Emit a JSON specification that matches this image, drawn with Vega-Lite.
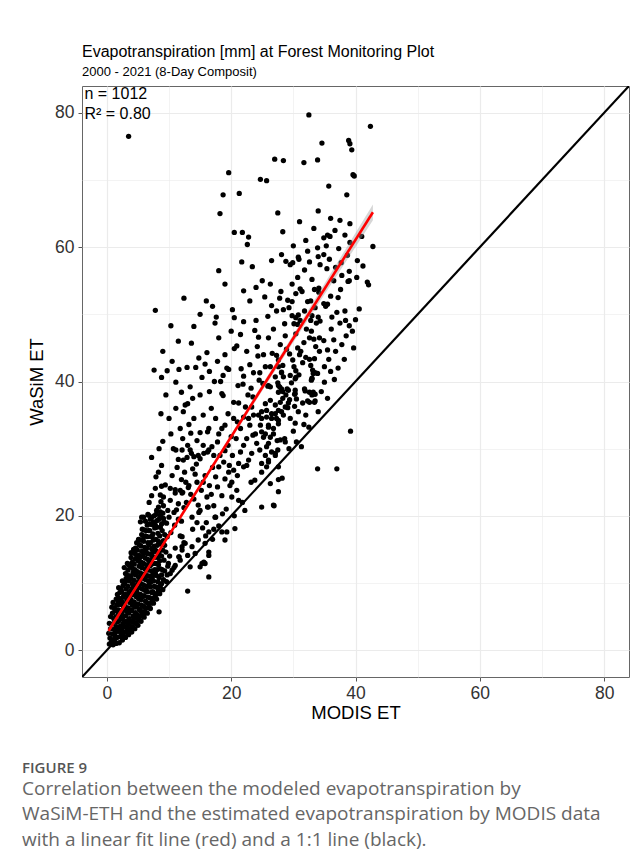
{
  "$schema": "https://vega.github.io/schema/vega-lite/v6.json",
  "background": "white",
  "padding": {"left": 22, "top": 43, "right": 5, "bottom": 3},
  "config": {"font": "Liberation Sans", "view": {"stroke": "#666666", "strokeWidth": 1}},
  "title": {
    "text": "FIGURE 9",
    "subtitle": ["Correlation between the modeled evapotranspiration by", "WaSiM-ETH and the estimated evapotranspiration by MODIS data", "with a linear fit line (red) and a 1:1 line (black)."],
    "orient": "bottom", "anchor": "start", "frame": "bounds", "dx": -5,
    "font": "Open Sans", "fontSize": 15, "fontWeight": 600, "color": "#555555",
    "subtitleFont": "Open Sans", "subtitleFontSize": 19, "subtitleColor": "#666666",
    "subtitleLineHeight": 25.5, "subtitlePadding": 4, "offset": 38
  },
  "vconcat": [
    {
      "width": 547,
      "height": 591,
      "title": {
        "text": "Evapotranspiration [mm] at Forest Monitoring Plot",
        "subtitle": "2000 - 2021 (8-Day Composit)",
        "anchor": "start", "frame": "group",
        "font": "Liberation Sans", "fontSize": 16, "fontWeight": "normal", "color": "#000000",
        "subtitleFont": "Liberation Sans", "subtitleFontSize": 13, "subtitleColor": "#000000",
        "subtitlePadding": 6, "offset": 7
      },
      "layer": [
        {
          "data": {"values": [
            {"x":3.5,"y":76.5},{"x":32.5,"y":79.7},{"x":42.4,"y":78.0},{"x":34.6,"y":75.5},{"x":38.9,"y":75.9},{"x":39.1,"y":75.4},{"x":39.4,"y":74.5},{"x":27.0,"y":73.1},{"x":28.4,"y":72.9},{"x":31.7,"y":72.6},{"x":33.9,"y":73.0},{"x":19.6,"y":71.1},{"x":39.6,"y":70.8},{"x":39.8,"y":70.6},{"x":24.7,"y":70.1},{"x":25.7,"y":69.9},{"x":18.7,"y":67.8},{"x":21.3,"y":68.0},{"x":35.7,"y":69.1},{"x":38.6,"y":67.8},{"x":18.2,"y":65.0},{"x":27.5,"y":65.1},{"x":34.0,"y":65.4},{"x":31.0,"y":63.8},{"x":36.0,"y":64.3},{"x":39.1,"y":63.5},{"x":20.5,"y":62.2},{"x":21.8,"y":62.2},{"x":22.8,"y":61.5},{"x":22.6,"y":60.4},{"x":28.3,"y":62.3},{"x":36.7,"y":62.5},{"x":34.9,"y":61.4},{"x":35.5,"y":61.8},{"x":35.9,"y":61.6},{"x":35.3,"y":60.2},{"x":39.1,"y":60.7},{"x":41.0,"y":61.6},{"x":42.8,"y":60.1},{"x":37.3,"y":59.8},{"x":21.7,"y":57.8},{"x":23.4,"y":57.1},{"x":28.1,"y":58.9},{"x":28.8,"y":57.9},{"x":29.5,"y":57.4},{"x":29.9,"y":57.7},{"x":30.8,"y":58.5},{"x":30.9,"y":58.2},{"x":32.3,"y":59.4},{"x":33.9,"y":59.9},{"x":34.0,"y":58.6},{"x":34.9,"y":58.9},{"x":34.3,"y":57.4},{"x":35.4,"y":56.8},{"x":37.7,"y":57.7},{"x":38.7,"y":58.8},{"x":39.0,"y":56.4},{"x":39.0,"y":55.0},{"x":41.9,"y":54.8},{"x":42.1,"y":54.4},{"x":30.7,"y":55.5},{"x":29.8,"y":54.5},{"x":25.4,"y":52.6},{"x":28.0,"y":53.4},{"x":27.8,"y":52.4},{"x":29.1,"y":52.1},{"x":29.8,"y":51.9},{"x":30.4,"y":53.1},{"x":31.1,"y":53.8},{"x":31.4,"y":53.4},{"x":32.3,"y":51.9},{"x":32.8,"y":52.0},{"x":33.4,"y":53.7},{"x":34.1,"y":53.9},{"x":34.1,"y":53.3},{"x":34.9,"y":51.6},{"x":35.2,"y":51.2},{"x":35.5,"y":51.5},{"x":37.2,"y":52.5},{"x":37.6,"y":53.7},{"x":38.8,"y":54.9},
            {"x":12.4,"y":52.4},{"x":16.0,"y":52.0},{"x":17.0,"y":51.2},{"x":20.2,"y":50.7},{"x":17.6,"y":49.6},{"x":17.4,"y":48.7},{"x":20.5,"y":49.5},{"x":22.0,"y":48.9},{"x":24.0,"y":49.1},{"x":23.8,"y":47.6},{"x":24.4,"y":46.6},{"x":25.9,"y":49.7},{"x":28.6,"y":48.6},{"x":28.7,"y":46.8},{"x":29.8,"y":49.8},{"x":30.4,"y":49.5},{"x":30.8,"y":49.9},{"x":31.1,"y":49.1},{"x":30.1,"y":48.6},{"x":30.7,"y":48.5},{"x":30.4,"y":47.1},{"x":32.1,"y":47.8},{"x":32.6,"y":46.5},{"x":32.8,"y":49.1},{"x":33.0,"y":49.8},{"x":33.7,"y":48.7},{"x":34.0,"y":49.6},{"x":34.3,"y":49.0},{"x":32.9,"y":47.5},{"x":33.3,"y":46.3},{"x":34.2,"y":46.5},{"x":34.9,"y":46.1},{"x":36.1,"y":47.8},{"x":36.2,"y":49.6},{"x":37.0,"y":50.3},{"x":37.5,"y":48.7},{"x":38.3,"y":50.5},{"x":38.4,"y":49.1},{"x":39.0,"y":48.3},{"x":40.6,"y":50.8},
            {"x":13.6,"y":45.7},{"x":16.1,"y":44.3},{"x":15.8,"y":42.6},{"x":12.9,"y":42.1},{"x":14.3,"y":42.1},{"x":15.3,"y":40.6},{"x":13.4,"y":39.2},{"x":18.3,"y":40.0},{"x":18.7,"y":40.9},{"x":19.3,"y":42.0},{"x":19.6,"y":41.8},{"x":20.5,"y":44.9},{"x":20.9,"y":45.3},{"x":21.6,"y":41.9},{"x":21.1,"y":39.4},{"x":21.9,"y":39.6},{"x":18.5,"y":38.2},{"x":18.7,"y":37.9},{"x":20.4,"y":36.9},{"x":23.5,"y":37.7},{"x":23.6,"y":41.3},{"x":24.6,"y":41.3},{"x":24.3,"y":43.8},{"x":24.2,"y":45.2},{"x":25.5,"y":42.2},{"x":26.3,"y":42.2},{"x":24.5,"y":40.2},{"x":25.1,"y":39.7},{"x":25.9,"y":39.3},{"x":26.3,"y":39.2},{"x":27.3,"y":43.9},{"x":27.6,"y":43.2},{"x":27.6,"y":42.2},{"x":28.1,"y":41.3},{"x":28.4,"y":40.7},{"x":28.3,"y":42.4},{"x":27.5,"y":39.8},{"x":27.8,"y":39.2},{"x":28.1,"y":38.9},{"x":28.3,"y":38.5},{"x":27.6,"y":38.4},{"x":28.8,"y":38.0},{"x":28.3,"y":37.5},{"x":29.4,"y":37.3},{"x":29.2,"y":36.8},{"x":29.4,"y":44.1},{"x":29.9,"y":43.2},{"x":30.1,"y":42.2},{"x":30.4,"y":41.6},{"x":30.4,"y":40.6},{"x":30.7,"y":45.0},{"x":31.2,"y":44.5},{"x":31.0,"y":44.0},{"x":32.0,"y":43.6},{"x":32.6,"y":43.3},{"x":33.4,"y":43.4},{"x":32.8,"y":42.4},{"x":33.1,"y":41.7},{"x":33.0,"y":40.5},{"x":32.9,"y":40.2},{"x":33.5,"y":41.3},{"x":33.9,"y":41.2},{"x":35.5,"y":44.7},{"x":35.7,"y":43.3},{"x":35.0,"y":39.9},{"x":36.6,"y":40.3},{"x":31.9,"y":38.6},{"x":32.6,"y":38.4},{"x":33.0,"y":38.0},{"x":33.4,"y":36.9},{"x":32.6,"y":36.9},{"x":30.3,"y":38.2},{"x":30.5,"y":37.4},{"x":30.2,"y":36.3},
            {"x":7.8,"y":50.6},{"x":10.3,"y":48.3},{"x":7.6,"y":41.7},{"x":8.8,"y":40.6},{"x":9.7,"y":41.6},{"x":11.6,"y":41.8},{"x":11.1,"y":39.9},{"x":12.0,"y":38.4},{"x":8.7,"y":35.2},{"x":11.1,"y":36.0},{"x":12.3,"y":35.5},{"x":12.6,"y":36.5},{"x":13.0,"y":36.7},{"x":13.2,"y":33.6},{"x":10.3,"y":32.2},{"x":13.5,"y":32.3},{"x":15.0,"y":32.4},{"x":16.4,"y":33.0},{"x":16.2,"y":32.5},{"x":18.5,"y":33.0},{"x":9.0,"y":31.1},{"x":8.4,"y":30.0},{"x":7.2,"y":28.7},{"x":10.7,"y":30.0},{"x":11.1,"y":29.8},{"x":12.1,"y":29.8},{"x":13.0,"y":30.5},{"x":13.4,"y":29.8},{"x":13.6,"y":29.3},{"x":11.5,"y":28.4},{"x":12.9,"y":28.7},{"x":12.3,"y":28.3},{"x":14.7,"y":29.0},{"x":15.0,"y":28.5},{"x":15.6,"y":29.3},{"x":16.4,"y":29.8},{"x":16.9,"y":30.3},{"x":14.4,"y":27.7},{"x":8.8,"y":27.5},{"x":8.3,"y":26.5},{"x":7.9,"y":25.8},{"x":8.8,"y":24.4},{"x":9.4,"y":24.6},{"x":10.2,"y":24.1},{"x":11.0,"y":23.9},{"x":11.8,"y":23.8},{"x":12.1,"y":23.4},{"x":7.8,"y":24.1},{"x":8.6,"y":23.1},{"x":9.1,"y":22.8},{"x":8.7,"y":22.1},{"x":8.3,"y":21.3},{"x":8.0,"y":20.8},{"x":8.6,"y":20.1},{"x":9.1,"y":19.6},{"x":5.6,"y":19.8},{"x":6.7,"y":20.1},{"x":7.2,"y":19.8},{"x":5.4,"y":19.1},
            {"x":13.1,"y":24.2},{"x":14.7,"y":21.6},{"x":16.1,"y":22.8},{"x":16.3,"y":21.3},{"x":17.4,"y":19.8},{"x":15.0,"y":20.8},{"x":13.7,"y":19.8},{"x":18.0,"y":27.3},{"x":19.6,"y":26.5},{"x":19.0,"y":25.5},{"x":20.1,"y":25.0},{"x":20.9,"y":23.8},{"x":20.1,"y":22.8},{"x":21.2,"y":22.3},{"x":20.4,"y":26.8},{"x":21.2,"y":27.8},{"x":22.0,"y":27.3},{"x":22.8,"y":28.3},{"x":23.3,"y":29.3},{"x":24.1,"y":30.8},{"x":25.2,"y":31.7},{"x":23.9,"y":32.2},{"x":24.7,"y":33.5},{"x":26.8,"y":21.6},{"x":24.9,"y":21.3},{"x":22.2,"y":20.8},{"x":19.3,"y":17.6},{"x":20.6,"y":18.1},{"x":19.0,"y":16.4},{"x":16.4,"y":14.6},{"x":15.8,"y":12.9},{"x":15.3,"y":12.9},{"x":16.4,"y":10.9},{"x":13.0,"y":8.8},{"x":14.7,"y":16.4},{"x":13.7,"y":15.4},{"x":12.6,"y":15.9},{"x":13.0,"y":14.1},{"x":13.4,"y":12.4},{"x":12.1,"y":16.9},{"x":12.1,"y":15.4},{"x":11.6,"y":13.9},{"x":8.4,"y":5.7},{"x":16.2,"y":21.3},{"x":17.5,"y":19.8},{"x":18.5,"y":17.6},{"x":16.4,"y":17.6},{"x":15.8,"y":15.9},{"x":14.2,"y":14.4},{"x":16.4,"y":14.1},{"x":15.6,"y":13.1},{"x":15.0,"y":12.4},{"x":12.1,"y":14.9},{"x":11.8,"y":13.4},{"x":11.0,"y":12.6},{"x":9.9,"y":12.9},{"x":10.5,"y":11.9},{"x":9.7,"y":11.2},{"x":8.8,"y":9.9},
            {"x":39.2,"y":32.6},{"x":33.9,"y":27.0},{"x":37.0,"y":27.0},{"x":27.6,"y":25.4},{"x":26.9,"y":21.5},{"x":31.7,"y":33.6},{"x":30.3,"y":33.8},{"x":30.0,"y":32.6},{"x":33.2,"y":41.2},{"x":33.0,"y":40.4},{"x":31.8,"y":38.9},{"x":33.2,"y":38.4},{"x":33.5,"y":38.1},{"x":32.3,"y":37.1},{"x":33.5,"y":37.1},{"x":30.3,"y":38.7},{"x":30.2,"y":38.1},{"x":29.0,"y":38.9},{"x":29.1,"y":36.1},{"x":28.6,"y":31.5},{"x":28.7,"y":31.0},{"x":27.1,"y":29.3},{"x":27.5,"y":29.8},{"x":26.0,"y":28.3},{"x":25.7,"y":27.3},{"x":25.5,"y":36.7},{"x":26.3,"y":37.2},{"x":27.1,"y":36.5},{"x":27.9,"y":36.9},{"x":26.5,"y":35.2},{"x":25.7,"y":34.7},{"x":27.3,"y":34.5},{"x":28.1,"y":35.5},{"x":26.0,"y":33.2},{"x":26.8,"y":33.0},{"x":27.6,"y":33.7},{"x":25.5,"y":32.2},{"x":26.3,"y":31.7},{"x":27.4,"y":31.2},{"x":25.7,"y":30.3},{"x":26.5,"y":29.5},{"x":25.5,"y":29.0},{"x":24.9,"y":27.8},{"x":28.7,"y":36.2},{"x":29.2,"y":38.7},{"x":27.6,"y":39.4},{"x":26.0,"y":39.4},{"x":27.1,"y":40.7},{"x":29.5,"y":40.9},{"x":30.3,"y":40.4},{"x":28.1,"y":41.4},
            {"x":20.4,"y":34.5},{"x":22.0,"y":34.7},{"x":23.6,"y":35.0},{"x":24.9,"y":35.5},{"x":27.6,"y":35.7},{"x":28.4,"y":35.0},{"x":24.9,"y":34.5},{"x":26.5,"y":34.5},{"x":23.3,"y":36.2},{"x":24.4,"y":35.0},{"x":25.7,"y":35.7},{"x":27.1,"y":35.2},{"x":27.6,"y":34.2},{"x":26.0,"y":33.5},{"x":24.9,"y":32.5},{"x":26.8,"y":32.2},{"x":27.9,"y":31.3},{"x":26.0,"y":30.8},{"x":24.6,"y":29.8},{"x":27.1,"y":29.0},{"x":26.0,"y":28.0},{"x":27.6,"y":27.3},{"x":24.9,"y":26.5},{"x":23.8,"y":25.3},{"x":26.3,"y":24.8},{"x":28.2,"y":25.6},{"x":27.6,"y":23.6},
            {"x":14.0,"y":22.5},{"x":14.5,"y":25.0},{"x":15.2,"y":23.8},{"x":15.8,"y":26.0},{"x":16.5,"y":24.5},{"x":17.0,"y":27.2},{"x":17.5,"y":25.8},{"x":18.2,"y":29.0},{"x":18.8,"y":28.0},{"x":19.5,"y":30.5},{"x":20.2,"y":29.0},{"x":20.8,"y":31.5},{"x":21.5,"y":33.0},{"x":22.0,"y":30.5},{"x":22.8,"y":34.5},{"x":23.5,"y":32.0},{"x":19.0,"y":33.5},{"x":17.8,"y":31.0},{"x":16.2,"y":29.5},{"x":13.8,"y":27.0},{"x":12.5,"y":26.5},{"x":13.2,"y":24.5},{"x":14.8,"y":20.5},{"x":16.0,"y":19.0},{"x":17.2,"y":21.5},{"x":18.5,"y":23.0},{"x":19.8,"y":24.5},{"x":21.0,"y":26.0},{"x":22.5,"y":27.5},{"x":23.2,"y":25.0},{"x":21.8,"y":22.0},{"x":20.5,"y":20.0},{"x":18.0,"y":18.5},{"x":17.0,"y":16.5},{"x":19.2,"y":21.0},
            {"x":10.5,"y":26.0},{"x":11.3,"y":27.2},{"x":12.0,"y":25.4},{"x":12.8,"y":22.0},{"x":13.5,"y":23.2},{"x":14.2,"y":26.2},{"x":10.8,"y":20.5},{"x":11.5,"y":19.5},{"x":12.4,"y":21.2},{"x":13.8,"y":18.0},{"x":14.5,"y":19.0},{"x":15.4,"y":18.2},{"x":15.9,"y":17.0},{"x":17.2,"y":18.0},{"x":18.6,"y":20.3},{"x":17.8,"y":24.3},{"x":16.8,"y":23.2},{"x":15.5,"y":25.0},{"x":14.0,"y":28.8},{"x":12.2,"y":31.5},{"x":11.8,"y":33.0},{"x":14.5,"y":31.2},{"x":15.5,"y":30.5},{"x":17.2,"y":29.0},{"x":19.0,"y":29.7},{"x":20.0,"y":31.8},{"x":18.0,"y":32.2},{"x":19.7,"y":27.5},{"x":21.5,"y":29.5},{"x":22.5,"y":31.5},{"x":23.0,"y":33.5},{"x":21.0,"y":34.0},{"x":22.3,"y":36.2},{"x":21.2,"y":36.8},{"x":19.5,"y":35.2},{"x":17.5,"y":34.5},{"x":16.8,"y":36.0},{"x":15.5,"y":35.0},{"x":14.0,"y":34.5},{"x":13.8,"y":37.5},{"x":15.0,"y":38.0},{"x":16.5,"y":38.5},{"x":17.3,"y":40.0},{"x":16.5,"y":41.5},{"x":14.8,"y":43.5},{"x":17.8,"y":43.0},{"x":19.0,"y":44.0},{"x":18.0,"y":46.5},{"x":20.0,"y":47.5},{"x":21.5,"y":47.0},{"x":22.5,"y":44.5},{"x":23.0,"y":42.5},{"x":22.0,"y":40.8},{"x":23.2,"y":39.0},{"x":22.7,"y":38.0},
            {"x":29.5,"y":34.5},{"x":30.8,"y":35.5},{"x":31.5,"y":36.8},{"x":32.0,"y":35.0},{"x":30.5,"y":31.0},{"x":29.3,"y":30.0},{"x":31.3,"y":30.3},{"x":32.5,"y":33.2},{"x":34.0,"y":35.5},{"x":34.5,"y":38.5},{"x":35.5,"y":37.5},{"x":36.0,"y":41.5},{"x":37.2,"y":42.0},{"x":36.8,"y":44.5},{"x":37.8,"y":45.5},{"x":38.5,"y":46.8},{"x":39.5,"y":47.5},{"x":40.0,"y":49.2},{"x":39.7,"y":45.0},{"x":38.2,"y":43.3},{"x":36.5,"y":46.2},{"x":35.0,"y":42.2},{"x":34.2,"y":44.5},{"x":33.6,"y":45.2},{"x":31.7,"y":45.8},{"x":31.5,"y":42.8},{"x":30.9,"y":41.0},{"x":29.7,"y":39.8},{"x":28.9,"y":44.8},{"x":27.9,"y":45.5},{"x":26.6,"y":44.2},{"x":26.0,"y":46.5},{"x":25.2,"y":44.0},{"x":26.8,"y":47.8},{"x":27.3,"y":50.5},{"x":26.5,"y":51.3},{"x":28.4,"y":50.7},{"x":29.3,"y":51.0},{"x":31.8,"y":50.5},{"x":33.5,"y":51.0},{"x":36.0,"y":52.7},{"x":36.5,"y":55.0},{"x":37.8,"y":55.8},{"x":33.0,"y":55.2},{"x":31.8,"y":56.6},{"x":32.6,"y":57.8},{"x":35.8,"y":58.2},{"x":36.8,"y":57.0},{"x":40.3,"y":58.0},{"x":40.2,"y":55.5},{"x":41.2,"y":57.2},{"x":38.3,"y":61.8},{"x":37.5,"y":64.0},{"x":33.3,"y":62.8},{"x":32.0,"y":61.0},{"x":30.0,"y":60.2},{"x":26.5,"y":58.0},{"x":25.0,"y":55.0},{"x":24.0,"y":54.0},{"x":26.3,"y":54.5},{"x":23.0,"y":52.0},{"x":22.0,"y":53.5},{"x":19.0,"y":54.5},{"x":18.0,"y":56.5},{"x":15.0,"y":50.0},{"x":14.0,"y":48.2},{"x":11.5,"y":46.0},{"x":9.0,"y":44.5},{"x":10.5,"y":43.0},{"x":9.5,"y":38.0},{"x":10.0,"y":34.5},{"x":7.2,"y":23.0},{"x":6.8,"y":22.0},
            {"x":0.4,"y":0.9},{"x":0.5,"y":1.8},{"x":0.3,"y":2.5},{"x":0.6,"y":3.2},{"x":0.4,"y":4.0},{"x":0.7,"y":1.2},{"x":0.8,"y":6.4},{"x":0.6,"y":5.0},
            {"x":1.0,"y":0.8},{"x":1.1,"y":1.6},{"x":0.9,"y":2.4},{"x":1.2,"y":3.1},{"x":1.0,"y":3.9},{"x":1.1,"y":4.7},{"x":0.9,"y":5.5},{"x":1.2,"y":6.3},{"x":1.0,"y":7.1},
            {"x":1.5,"y":1.0},{"x":1.6,"y":1.9},{"x":1.4,"y":2.7},{"x":1.5,"y":3.5},{"x":1.7,"y":4.2},{"x":1.5,"y":5.0},{"x":1.4,"y":5.9},{"x":1.6,"y":6.7},{"x":1.5,"y":7.6},{"x":1.7,"y":8.3},
            {"x":2.0,"y":1.1},{"x":2.1,"y":2.0},{"x":1.9,"y":2.8},{"x":2.2,"y":3.6},{"x":2.0,"y":4.4},{"x":2.1,"y":5.2},{"x":1.9,"y":6.0},{"x":2.2,"y":6.8},{"x":2.0,"y":7.7},{"x":2.1,"y":8.6},{"x":1.9,"y":9.3},
            {"x":2.5,"y":1.5},{"x":2.6,"y":2.3},{"x":2.4,"y":3.1},{"x":2.6,"y":3.9},{"x":2.5,"y":4.7},{"x":2.4,"y":5.5},{"x":2.7,"y":6.3},{"x":2.5,"y":7.1},{"x":2.6,"y":7.9},{"x":2.4,"y":8.7},{"x":2.6,"y":9.6},{"x":2.5,"y":10.3},
            {"x":3.0,"y":1.9},{"x":3.1,"y":2.7},{"x":2.9,"y":3.5},{"x":3.2,"y":4.3},{"x":3.0,"y":5.1},{"x":3.1,"y":5.9},{"x":2.9,"y":6.7},{"x":3.2,"y":7.5},{"x":3.0,"y":8.3},{"x":3.1,"y":9.1},{"x":2.9,"y":9.9},{"x":3.1,"y":10.7},{"x":3.0,"y":11.4},{"x":2.8,"y":12.3},
            {"x":3.5,"y":2.3},{"x":3.6,"y":3.1},{"x":3.4,"y":3.9},{"x":3.6,"y":4.7},{"x":3.5,"y":5.5},{"x":3.4,"y":6.3},{"x":3.7,"y":7.1},{"x":3.5,"y":7.9},{"x":3.6,"y":8.7},{"x":3.4,"y":9.5},{"x":3.6,"y":10.3},{"x":3.5,"y":11.1},{"x":3.4,"y":11.9},{"x":3.6,"y":12.6},{"x":3.3,"y":12.9},
            {"x":4.0,"y":2.7},{"x":4.1,"y":3.5},{"x":3.9,"y":4.3},{"x":4.2,"y":5.1},{"x":4.0,"y":5.9},{"x":4.1,"y":6.7},{"x":3.9,"y":7.5},{"x":4.2,"y":8.3},{"x":4.0,"y":9.1},{"x":4.1,"y":9.9},{"x":3.9,"y":10.7},{"x":4.2,"y":11.5},{"x":4.0,"y":12.3},{"x":4.1,"y":13.1},{"x":3.9,"y":13.8},{"x":3.9,"y":14.5},{"x":4.3,"y":15.0},
            {"x":4.5,"y":3.2},{"x":4.6,"y":4.0},{"x":4.4,"y":4.8},{"x":4.6,"y":5.6},{"x":4.5,"y":6.4},{"x":4.4,"y":7.2},{"x":4.7,"y":8.0},{"x":4.5,"y":8.8},{"x":4.6,"y":9.6},{"x":4.4,"y":10.4},{"x":4.6,"y":11.2},{"x":4.5,"y":12.0},{"x":4.4,"y":12.8},{"x":4.6,"y":13.6},{"x":4.5,"y":14.4},{"x":4.6,"y":15.2},{"x":4.8,"y":16.0},
            {"x":5.0,"y":3.7},{"x":5.1,"y":4.5},{"x":4.9,"y":5.3},{"x":5.2,"y":6.1},{"x":5.0,"y":6.9},{"x":5.1,"y":7.7},{"x":4.9,"y":8.5},{"x":5.2,"y":9.3},{"x":5.0,"y":10.1},{"x":5.1,"y":10.9},{"x":4.9,"y":11.7},{"x":5.2,"y":12.5},{"x":5.0,"y":13.3},{"x":5.1,"y":14.1},{"x":4.9,"y":14.9},{"x":5.2,"y":15.7},{"x":5.1,"y":16.5},
            {"x":5.5,"y":4.3},{"x":5.6,"y":5.1},{"x":5.4,"y":5.9},{"x":5.6,"y":6.7},{"x":5.5,"y":7.5},{"x":5.4,"y":8.3},{"x":5.7,"y":9.1},{"x":5.5,"y":9.9},{"x":5.6,"y":10.7},{"x":5.4,"y":11.5},{"x":5.6,"y":12.3},{"x":5.5,"y":13.1},{"x":5.4,"y":13.9},{"x":5.6,"y":14.7},{"x":5.5,"y":15.5},{"x":5.4,"y":16.4},{"x":5.6,"y":17.2},{"x":5.7,"y":18.0},
            {"x":6.0,"y":4.9},{"x":6.1,"y":5.7},{"x":5.9,"y":6.5},{"x":6.2,"y":7.3},{"x":6.0,"y":8.1},{"x":6.1,"y":8.9},{"x":5.9,"y":9.7},{"x":6.2,"y":10.5},{"x":6.0,"y":11.3},{"x":6.1,"y":12.1},{"x":5.9,"y":12.9},{"x":6.2,"y":13.7},{"x":6.0,"y":14.5},{"x":6.1,"y":15.3},{"x":5.9,"y":16.2},{"x":6.2,"y":17.0},{"x":6.0,"y":17.9},{"x":6.2,"y":19.2},{"x":5.9,"y":19.8},
            {"x":6.5,"y":5.5},{"x":6.6,"y":6.3},{"x":6.4,"y":7.1},{"x":6.6,"y":7.9},{"x":6.5,"y":8.7},{"x":6.4,"y":9.5},{"x":6.7,"y":10.3},{"x":6.5,"y":11.1},{"x":6.6,"y":11.9},{"x":6.4,"y":12.7},{"x":6.6,"y":13.5},{"x":6.5,"y":14.4},{"x":6.4,"y":15.2},{"x":6.6,"y":16.0},{"x":6.5,"y":16.9},{"x":6.7,"y":17.8},{"x":6.5,"y":18.6},{"x":6.6,"y":20.2},
            {"x":7.0,"y":6.2},{"x":7.1,"y":7.0},{"x":6.9,"y":7.8},{"x":7.2,"y":8.6},{"x":7.0,"y":9.4},{"x":7.1,"y":10.2},{"x":6.9,"y":11.0},{"x":7.2,"y":11.8},{"x":7.0,"y":12.6},{"x":7.1,"y":13.4},{"x":6.9,"y":14.3},{"x":7.2,"y":15.1},{"x":7.0,"y":16.0},{"x":7.1,"y":16.9},{"x":6.9,"y":17.8},{"x":7.2,"y":18.7},{"x":7.0,"y":19.5},
            {"x":7.5,"y":7.0},{"x":7.6,"y":7.8},{"x":7.4,"y":8.7},{"x":7.6,"y":9.5},{"x":7.5,"y":10.3},{"x":7.4,"y":11.2},{"x":7.7,"y":12.0},{"x":7.5,"y":12.9},{"x":7.6,"y":13.8},{"x":7.4,"y":14.6},{"x":7.6,"y":15.5},{"x":7.5,"y":16.4},{"x":7.4,"y":17.3},{"x":7.7,"y":18.2},{"x":7.5,"y":19.1},{"x":7.6,"y":20.0},
            {"x":8.0,"y":7.6},{"x":8.1,"y":8.5},{"x":7.9,"y":9.4},{"x":8.2,"y":10.2},{"x":8.0,"y":11.1},{"x":8.1,"y":12.0},{"x":7.9,"y":12.9},{"x":8.2,"y":13.8},{"x":8.0,"y":14.7},{"x":8.1,"y":15.6},{"x":7.9,"y":16.5},{"x":8.2,"y":17.4},{"x":8.0,"y":18.3},{"x":8.1,"y":19.3},{"x":7.9,"y":20.2},
            {"x":8.5,"y":8.4},{"x":8.6,"y":9.6},{"x":8.4,"y":10.8},{"x":8.6,"y":12.1},{"x":8.5,"y":13.3},{"x":8.4,"y":14.5},{"x":8.7,"y":15.8},{"x":8.5,"y":17.0},{"x":8.6,"y":18.3},{"x":8.4,"y":19.5},{"x":8.6,"y":20.6},
            {"x":9.0,"y":9.0},{"x":9.1,"y":10.5},{"x":8.9,"y":12.0},{"x":9.2,"y":13.4},{"x":9.0,"y":14.9},{"x":9.1,"y":16.3},{"x":8.9,"y":17.8},{"x":9.2,"y":19.1},{"x":9.0,"y":20.4},{"x":9.1,"y":21.5},
            {"x":9.6,"y":10.2},{"x":9.8,"y":12.5},{"x":9.5,"y":14.6},{"x":9.7,"y":16.9},{"x":9.6,"y":18.9},{"x":9.8,"y":20.8},{"x":10.2,"y":11.4},{"x":10.1,"y":14.0},{"x":10.3,"y":17.5},{"x":10.0,"y":19.8},{"x":10.2,"y":22.3},
            {"x":10.8,"y":12.3},{"x":11.0,"y":15.2},{"x":10.9,"y":18.6},{"x":11.2,"y":20.9},{"x":11.0,"y":23.4},{"x":11.6,"y":13.9},{"x":11.8,"y":17.0},{"x":11.5,"y":21.8},{"x":12.0,"y":19.2},{"x":12.2,"y":23.5},{"x":12.4,"y":16.0},{"x":12.7,"y":25.0},
            {"x":1.3,"y":2.2},{"x":1.3,"y":4.4},{"x":1.3,"y":6.0},{"x":1.8,"y":3.2},{"x":1.8,"y":5.6},{"x":1.8,"y":7.3},{"x":2.3,"y":2.6},{"x":2.3,"y":4.9},{"x":2.3,"y":7.4},{"x":2.3,"y":9.0},{"x":2.8,"y":2.0},{"x":2.8,"y":4.2},{"x":2.8,"y":6.0},{"x":2.8,"y":8.2},{"x":2.8,"y":10.0},{"x":3.3,"y":3.3},{"x":3.3,"y":5.7},{"x":3.3,"y":8.1},{"x":3.3,"y":10.5},{"x":3.8,"y":2.9},{"x":3.8,"y":6.0},{"x":3.8,"y":8.4},{"x":3.8,"y":11.0},{"x":3.8,"y":12.8},{"x":4.3,"y":4.2},{"x":4.3,"y":7.0},{"x":4.3,"y":9.4},{"x":4.3,"y":12.0},{"x":4.8,"y":3.9},{"x":4.8,"y":6.6},{"x":4.8,"y":9.0},{"x":4.8,"y":11.6},{"x":4.8,"y":13.8},{"x":5.3,"y":5.0},{"x":5.3,"y":7.9},{"x":5.3,"y":10.6},{"x":5.3,"y":13.2},{"x":5.3,"y":15.6},{"x":5.8,"y":5.4},{"x":5.8,"y":8.0},{"x":5.8,"y":11.0},{"x":5.8,"y":14.0},{"x":5.8,"y":16.5},{"x":6.3,"y":6.3},{"x":6.3,"y":9.0},{"x":6.3,"y":12.0},{"x":6.3,"y":15.0},{"x":6.3,"y":17.8},{"x":6.8,"y":6.9},{"x":6.8,"y":9.8},{"x":6.8,"y":12.8},{"x":6.8,"y":15.7},{"x":6.8,"y":18.8},{"x":7.3,"y":7.4},{"x":7.3,"y":10.8},{"x":7.3,"y":14.0},{"x":7.3,"y":17.0},{"x":7.8,"y":8.3},{"x":7.8,"y":11.5},{"x":7.8,"y":14.9},{"x":7.8,"y":18.6},{"x":8.3,"y":9.0},{"x":8.3,"y":12.7},{"x":8.3,"y":16.2},{"x":8.8,"y":11.2},{"x":8.8,"y":14.0},{"x":8.8,"y":18.8},{"x":9.3,"y":11.8},{"x":9.3,"y":15.6},{"x":9.3,"y":17.2}
          ]},
          "mark": {"type": "circle", "size": 28, "color": "#000000", "opacity": 1},
          "encoding": {
            "x": {"field": "x", "type": "quantitative", "scale": {"domain": [-4, 84], "nice": false, "zero": false},
              "axis": {"title": "MODIS ET", "values": [0,10,20,30,40,50,60,70,80],
                "labelExpr": "datum.value % 20 === 0 ? datum.label : ''",
                "domain": false, "tickSize": 4, "tickColor": {"condition": {"test": "datum.value % 20 !== 0", "value": "transparent"}, "value": "#555555"},
                "gridColor": "#ebebeb", "gridWidth": {"condition": {"test": "datum.value % 20 !== 0", "value": 0.6}, "value": 1.2},
                "labelFontSize": 17.5, "labelColor": "#333333", "labelPadding": 3, "labelFont": "Liberation Sans",
                "titleFontSize": 18.5, "titleFontWeight": "normal", "titleColor": "#000000", "titlePadding": 2, "titleFont": "Liberation Sans"}},
            "y": {"field": "y", "type": "quantitative", "scale": {"domain": [-4, 84], "nice": false, "zero": false},
              "axis": {"title": "WaSiM ET", "values": [0,10,20,30,40,50,60,70,80],
                "labelExpr": "datum.value % 20 === 0 ? datum.label : ''",
                "domain": false, "tickSize": 4, "tickColor": {"condition": {"test": "datum.value % 20 !== 0", "value": "transparent"}, "value": "#555555"},
                "gridColor": "#ebebeb", "gridWidth": {"condition": {"test": "datum.value % 20 !== 0", "value": 0.6}, "value": 1.2},
                "labelFontSize": 17.5, "labelColor": "#333333", "labelPadding": 4, "labelFont": "Liberation Sans",
                "titleFontSize": 18.5, "titleFontWeight": "normal", "titleColor": "#000000", "titlePadding": 8, "titleFont": "Liberation Sans"}}
          }
        },
        {
          "data": {"values": [
            {"x": 0.27, "lo": 2.45, "hi": 3.29},
            {"x": 5, "lo": 9.5, "hi": 10.1},
            {"x": 10, "lo": 16.85, "hi": 17.4},
            {"x": 20, "lo": 31.4, "hi": 32.15},
            {"x": 30, "lo": 45.85, "hi": 47.0},
            {"x": 42.8, "lo": 64.0, "hi": 66.35}
          ]},
          "mark": {"type": "area", "color": "#999999", "opacity": 0.4},
          "encoding": {
            "x": {"field": "x", "type": "quantitative", "scale": {"domain": [-4, 84], "nice": false, "zero": false}},
            "y": {"field": "lo", "type": "quantitative", "scale": {"domain": [-4, 84], "nice": false, "zero": false}},
            "y2": {"field": "hi"}
          }
        },
        {
          "data": {"values": [{"x": 0.27, "y": 2.87}, {"x": 42.8, "y": 65.2}]},
          "mark": {"type": "line", "color": "#ff0000", "strokeWidth": 2.6},
          "encoding": {
            "x": {"field": "x", "type": "quantitative", "scale": {"domain": [-4, 84], "nice": false, "zero": false}},
            "y": {"field": "y", "type": "quantitative", "scale": {"domain": [-4, 84], "nice": false, "zero": false}}
          }
        },
        {
          "data": {"values": [{"v": -4}, {"v": 84}]},
          "mark": {"type": "line", "color": "#000000", "strokeWidth": 2.2, "clip": true},
          "encoding": {
            "x": {"field": "v", "type": "quantitative", "scale": {"domain": [-4, 84], "nice": false, "zero": false}},
            "y": {"field": "v", "type": "quantitative", "scale": {"domain": [-4, 84], "nice": false, "zero": false}}
          }
        },
        {
          "data": {"values": [{}]},
          "mark": {"type": "text", "text": "n = 1012", "align": "left", "baseline": "middle", "fontSize": 16, "font": "Liberation Sans", "color": "#000000"},
          "encoding": {"x": {"datum": -3.6, "type": "quantitative"}, "y": {"datum": 82.8, "type": "quantitative"}}
        },
        {
          "data": {"values": [{}]},
          "mark": {"type": "text", "text": "R² = 0.80", "align": "left", "baseline": "middle", "fontSize": 16, "font": "Liberation Sans", "color": "#000000"},
          "encoding": {"x": {"datum": -3.6, "type": "quantitative"}, "y": {"datum": 79.9, "type": "quantitative"}}
        }
      ]
    }
  ]
}
